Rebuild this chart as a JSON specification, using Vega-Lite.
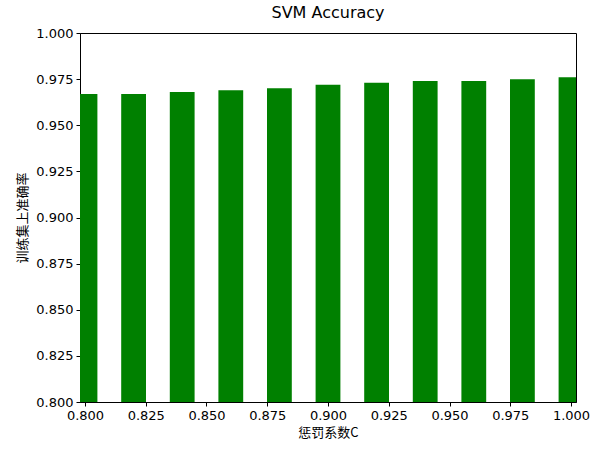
{
"$schema":"https://vega.github.io/schema/vega-lite/v6.json",
"width":496,"height":369,
"autosize":{"type":"none"},
"padding":{"left":80,"top":33,"right":29,"bottom":54},
"title":{"text":"SVM Accuracy","fontSize":16,"font":"DejaVu Sans","fontWeight":"normal","offset":6,"color":"black"},
"config":{"view":{"stroke":"black","strokeWidth":1},"axis":{"grid":false,"domainColor":"black","tickColor":"black","labelColor":"black","labelFont":"DejaVu Sans","labelFontSize":13,"tickSize":4,"labelPadding":3,"titleFont":"Noto Sans CJK SC","titleFontWeight":"normal","titleFontSize":13,"titleColor":"black"}},
"data":{"values":[
{"C":0.80,"acc":0.967},{"C":0.82,"acc":0.967},{"C":0.84,"acc":0.968},{"C":0.86,"acc":0.969},{"C":0.88,"acc":0.970},{"C":0.90,"acc":0.972},{"C":0.92,"acc":0.973},{"C":0.94,"acc":0.974},{"C":0.96,"acc":0.974},{"C":0.98,"acc":0.975},{"C":1.00,"acc":0.976}]},
"mark":{"type":"bar","color":"green","size":24.8,"clip":true},
"encoding":{
"x":{"field":"C","type":"quantitative","scale":{"domain":[0.8,1.0],"nice":false,"zero":false},"axis":{"values":[0.8,0.825,0.85,0.875,0.9,0.925,0.95,0.975,1.0],"format":".3f","title":"惩罚系数C","titlePadding":4,"labelFlush":false}},
"y":{"field":"acc","type":"quantitative","scale":{"domain":[0.8,1.0],"nice":false,"zero":false},"axis":{"values":[0.8,0.825,0.85,0.875,0.9,0.925,0.95,0.975,1.0],"format":".3f","title":"训练集上准确率","titlePadding":6,"labelFlush":false}}
}
}
